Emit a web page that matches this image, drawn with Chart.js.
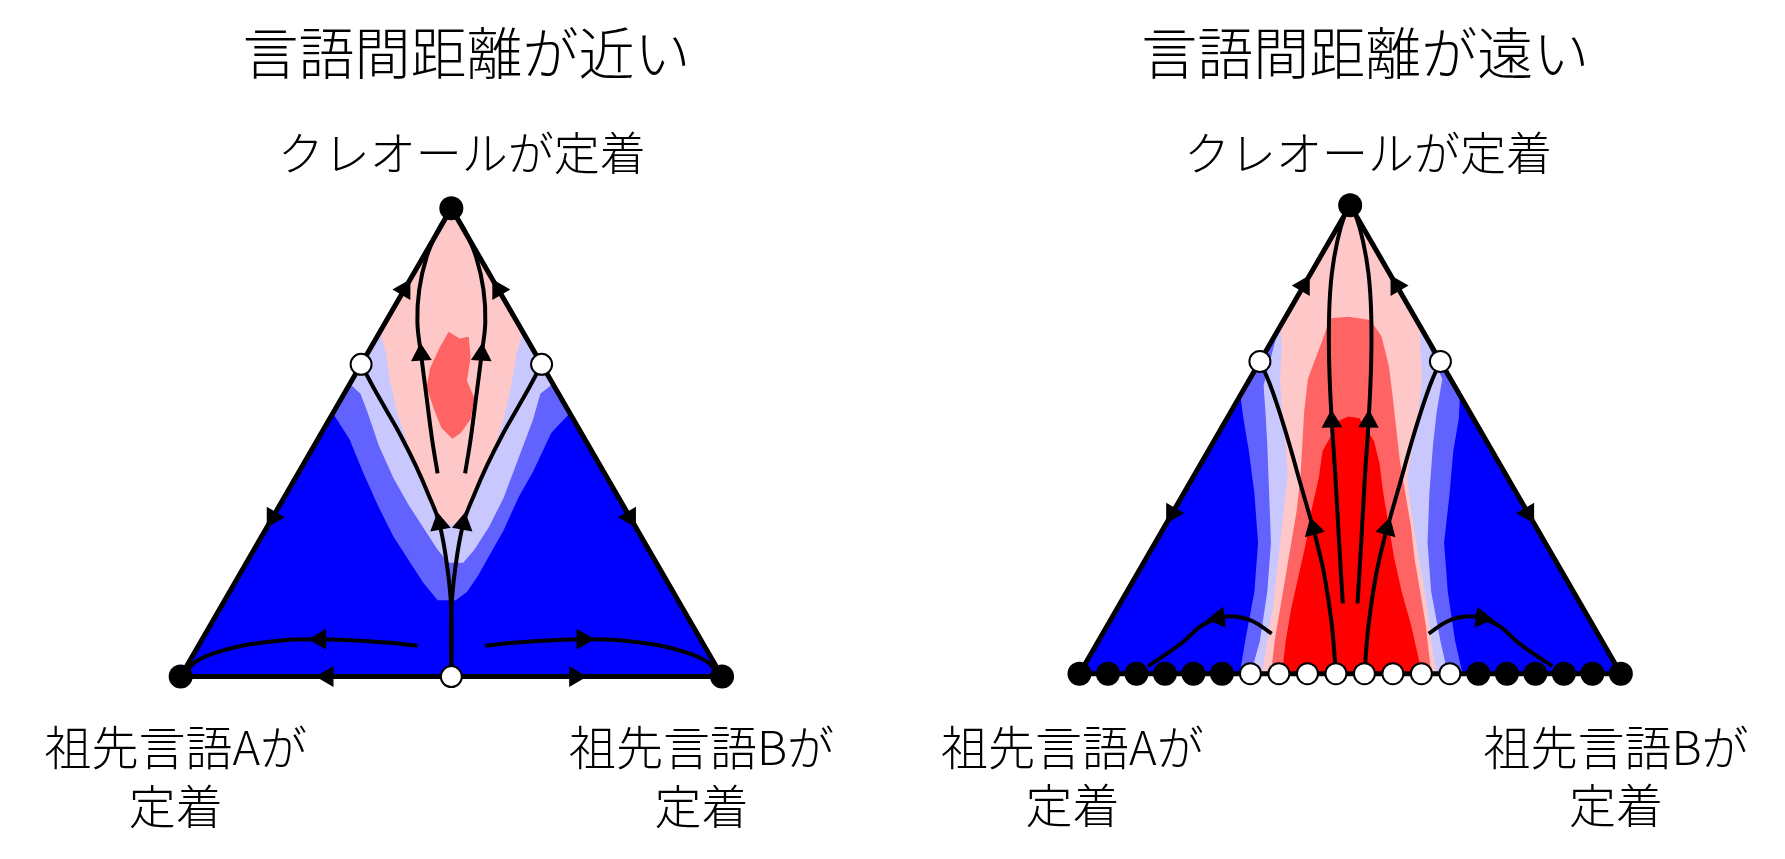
<!DOCTYPE html>
<html lang="ja">
<head>
<meta charset="utf-8">
<title>言語間距離とクレオールの定着</title>
<script src="https://cdn.jsdelivr.net/npm/chart.js@4.4.1/dist/chart.umd.min.js"></script>
<style>
  html, body { margin: 0; padding: 0; background: #fff; }
  #wrap { position: relative; width: 1785px; height: 859px; overflow: hidden; }
  canvas { position: absolute; top: 0; }
  #near { left: 0; }
  #far { left: 892px; }
</style>
</head>
<body>
<div id="wrap">
  <canvas id="near" width="892" height="859"></canvas>
  <canvas id="far" width="893" height="859"></canvas>
</div>
<script>
// 三角形の座標系: 左下(0,0)=祖先言語A, 右下(1,0)=祖先言語B, 頂点(0.5,0.866)=クレオール
const triangle = [[0, 0], [1, 0], [0.5, 0.866]];

// ---- 言語間距離が近い ----
const nearMid = [[0.2812, 0.4871], [0.5, 0.866], [0.7188, 0.4871], [0.6847, 0.4511], [0.6508, 0.3789], [0.6237, 0.3308],
  [0.5966, 0.2706], [0.5695, 0.2225], [0.5492, 0.1864], [0.5288, 0.1564], [0.5085, 0.1413], [0.4746, 0.1413],
  [0.4475, 0.1744], [0.4203, 0.2165], [0.3932, 0.2586], [0.3661, 0.3127], [0.3390, 0.3729], [0.3119, 0.4390]];
const nearLight = [[0.3125, 0.5413], [0.5, 0.866], [0.6875, 0.5413], [0.6644, 0.5232], [0.6508, 0.4751], [0.6237, 0.4029],
  [0.5966, 0.3308], [0.5695, 0.2766], [0.5424, 0.2345], [0.5220, 0.2105], [0.4949, 0.2105], [0.4746, 0.2345],
  [0.4475, 0.2766], [0.4203, 0.3187], [0.3932, 0.3669], [0.3661, 0.4270], [0.3458, 0.4871], [0.3322, 0.5232]];
const nearPink = [[0.3681, 0.6375], [0.5, 0.866], [0.6319, 0.6375], [0.6203, 0.5954], [0.6102, 0.5352], [0.5966, 0.4751],
  [0.5763, 0.4150], [0.5559, 0.3669], [0.5356, 0.3248], [0.5153, 0.2887], [0.4983, 0.2797], [0.4814, 0.2887],
  [0.4610, 0.3187], [0.4407, 0.3669], [0.4203, 0.4270], [0.4000, 0.4871], [0.3864, 0.5473], [0.3797, 0.5954]];
const nearSalmon = [[0.4949, 0.6375], [0.5153, 0.6254], [0.5322, 0.6284], [0.5356, 0.5894], [0.5288, 0.5473], [0.5424, 0.5150],
  [0.5356, 0.4760], [0.5170, 0.4500], [0.5017, 0.4400], [0.4814, 0.4600], [0.4678, 0.4950], [0.4542, 0.5352],
  [0.4610, 0.5713], [0.4780, 0.6074]];

const nearBranchLeft = [[0.5, 0], [0.5, 0.12], [0.493, 0.1985], [0.478, 0.2827], [0.4576, 0.3368], [0.4339, 0.3909],
  [0.4068, 0.4450], [0.3797, 0.4931], [0.3559, 0.5352], [0.3333, 0.5774]];
const nearBranchRight = [[0.5, 0], [0.5, 0.12], [0.507, 0.1985], [0.522, 0.2827], [0.5424, 0.3368], [0.5661, 0.3909],
  [0.5932, 0.4450], [0.6203, 0.4931], [0.6441, 0.5352], [0.6667, 0.5774]];
const nearInnerLeft = [[0.4746, 0.3759], [0.4644, 0.4390], [0.4542, 0.5172], [0.4441, 0.5954], [0.4373, 0.6555],
  [0.4407, 0.7157], [0.4542, 0.7758], [0.4746, 0.8239], [0.5, 0.866]];
const nearInnerRight = [[0.5254, 0.3759], [0.5356, 0.4390], [0.5458, 0.5172], [0.5559, 0.5954], [0.5627, 0.6555],
  [0.5593, 0.7157], [0.5458, 0.7758], [0.5254, 0.8239], [0.5, 0.866]];
const nearArcLeft = [[0.4373, 0.0571], [0.3797, 0.0631], [0.3119, 0.0674], [0.2576, 0.0692], [0.1898, 0.0674],
  [0.1220, 0.0589], [0.0678, 0.0451], [0.0271, 0.0271], [0.008, 0.006]];
const nearArcRight = [[0.5627, 0.0571], [0.6203, 0.0631], [0.6881, 0.0674], [0.7424, 0.0692], [0.8102, 0.0674],
  [0.8780, 0.0589], [0.9322, 0.0451], [0.9729, 0.0271], [0.992, 0.006]];
// 矢印 [x, y, 向き(度)]
const nearArrows = [[0.4132, 0.7157, 30], [0.1701, 0.2947, 210], [0.5868, 0.7157, 330], [0.8299, 0.2947, 150],
  [0.2712, 0, 270], [0.7288, 0, 90], [0.4441, 0.5954, 357], [0.5559, 0.5954, 3],
  [0.478, 0.2827, 350], [0.522, 0.2827, 10], [0.2576, 0.0692, 270], [0.7424, 0.0692, 90]];
const nearStable = [[0, 0], [1, 0], [0.5, 0.866]];
const nearUnstable = [[0.5, 0], [0.3333, 0.5774], [0.6667, 0.5774]];

// ---- 言語間距離が遠い ----
const farMid = [[0.2972, 0.5148], [0.5, 0.866], [0.7028, 0.5148], [0.7007, 0.4724], [0.6905, 0.4118], [0.6837, 0.3331],
  [0.6735, 0.2422], [0.6803, 0.1514], [0.6939, 0.0606], [0.7075, 0], [0.2959, 0], [0.3061, 0.0606],
  [0.3231, 0.1514], [0.3299, 0.2422], [0.3231, 0.3331], [0.3129, 0.4118], [0.3027, 0.4724]];
const farLight = [[0.3671, 0.6359], [0.5, 0.866], [0.6329, 0.6359], [0.6701, 0.5450], [0.6599, 0.4845], [0.6531, 0.4239],
  [0.6463, 0.3331], [0.6429, 0.2422], [0.6497, 0.1514], [0.6667, 0.0606], [0.6803, 0], [0.3163, 0],
  [0.3333, 0.0606], [0.3469, 0.1514], [0.3537, 0.2422], [0.3503, 0.3331], [0.3469, 0.4239], [0.3435, 0.4845],
  [0.3401, 0.5329]];
const farPink = [[0.3706, 0.6419], [0.5, 0.866], [0.6294, 0.6419], [0.6293, 0.6056], [0.6327, 0.5450], [0.6259, 0.4845],
  [0.6156, 0.4239], [0.6054, 0.3634], [0.6122, 0.3028], [0.6224, 0.2422], [0.6327, 0.1817], [0.6429, 0.1211],
  [0.6497, 0.0606], [0.6599, 0], [0.3367, 0], [0.3469, 0.0606], [0.3571, 0.1211], [0.3639, 0.1817],
  [0.3707, 0.2422], [0.3776, 0.3028], [0.3844, 0.3634], [0.3810, 0.4239], [0.3741, 0.4845], [0.3707, 0.5450],
  [0.3741, 0.6056]];
const farSalmon = [[0.4626, 0.6571], [0.4966, 0.6601], [0.5374, 0.6540], [0.5578, 0.6238], [0.5714, 0.5693],
  [0.5782, 0.5148], [0.5850, 0.4542], [0.5918, 0.3936], [0.6020, 0.3331], [0.6122, 0.2725], [0.6190, 0.2120],
  [0.6293, 0.1514], [0.6395, 0.0908], [0.6463, 0.0303], [0.6497, 0], [0.3537, 0], [0.3605, 0.0606],
  [0.3707, 0.1211], [0.3810, 0.1817], [0.3912, 0.2422], [0.4014, 0.3028], [0.4082, 0.3634], [0.4116, 0.4239],
  [0.4150, 0.4845], [0.4218, 0.5450], [0.4354, 0.5814], [0.4490, 0.6177]];
const farRed = [[0.4762, 0.4663], [0.4966, 0.4754], [0.5170, 0.4724], [0.5442, 0.4300], [0.5544, 0.3876],
  [0.5612, 0.3331], [0.5714, 0.2725], [0.5816, 0.2120], [0.5952, 0.1514], [0.6122, 0.0908], [0.6259, 0.0303],
  [0.6327, 0], [0.3741, 0], [0.3810, 0.0606], [0.3912, 0.1211], [0.4048, 0.1817], [0.4184, 0.2422],
  [0.4286, 0.3028], [0.4422, 0.3634], [0.4490, 0.4118], [0.4626, 0.4360]];

const farOuterLeft = [[0.4737, 0], [0.4660, 0.0908], [0.4524, 0.1817], [0.4388, 0.2422], [0.4320, 0.2680],
  [0.4082, 0.3512], [0.3878, 0.4239], [0.3673, 0.4905], [0.3503, 0.5390], [0.3333, 0.5774]];
const farOuterRight = [[0.5263, 0], [0.5340, 0.0908], [0.5476, 0.1817], [0.5612, 0.2422], [0.5680, 0.2680],
  [0.5918, 0.3512], [0.6122, 0.4239], [0.6327, 0.4905], [0.6497, 0.5390], [0.6667, 0.5774]];
const farInnerLeft = [[0.4864, 0.1302], [0.4796, 0.2422], [0.4728, 0.3634], [0.4660, 0.4663], [0.4612, 0.5753],
  [0.4612, 0.6662], [0.4660, 0.7388], [0.4762, 0.7994], [0.4898, 0.8478], [0.5, 0.866]];
const farInnerRight = [[0.5136, 0.1302], [0.5204, 0.2422], [0.5272, 0.3634], [0.5340, 0.4663], [0.5388, 0.5753],
  [0.5388, 0.6662], [0.5340, 0.7388], [0.5238, 0.7994], [0.5102, 0.8478], [0.5, 0.866]];
const farArcLeft = [[0.127, 0.014], [0.163, 0.038], [0.194, 0.061], [0.224, 0.088], [0.257, 0.103], [0.284, 0.106],
  [0.320, 0.097], [0.355, 0.074]];
const farArcRight = [[0.645, 0.074], [0.680, 0.097], [0.716, 0.106], [0.743, 0.103], [0.776, 0.088], [0.806, 0.061],
  [0.837, 0.038], [0.873, 0.014]];
const farArrows = [[0.4143, 0.7176, 30], [0.1713, 0.2967, 210], [0.5857, 0.7176, 330], [0.8287, 0.2967, 150],
  [0.4320, 0.2680, 345], [0.5680, 0.2680, 15], [0.4660, 0.4663, 358], [0.5340, 0.4663, 2],
  [0.257, 0.103, 262], [0.743, 0.103, 98]];
const farStable = [[0, 0], [0.0526, 0], [0.1053, 0], [0.1579, 0], [0.2105, 0], [0.2632, 0],
  [0.7368, 0], [0.7895, 0], [0.8421, 0], [0.8947, 0], [0.9474, 0], [1, 0], [0.5, 0.866]];
const farUnstable = [[0.3158, 0], [0.3684, 0], [0.4211, 0], [0.4737, 0], [0.5263, 0], [0.5789, 0], [0.6316, 0],
  [0.6842, 0], [0.3333, 0.5774], [0.6667, 0.5774]];

const colors = { blue: '#0000ff', mid: '#6262ff', light: '#c8c8ff', pink: '#ffc8c8', salmon: '#ff6464', red: '#ff0000' };

const pts = arr => arr.map(([x, y]) => ({ x, y }));

function region(data, color, order) {
  return { data: pts(data), showLine: true, fill: 'shape', backgroundColor: color,
    borderWidth: 0, pointRadius: 0, tension: 0, order };
}
function flow(data) {
  return { data: pts(data), showLine: true, fill: false, borderColor: '#000', borderWidth: 4,
    pointRadius: 0, tension: 0.4, borderCapStyle: 'butt', order: 3 };
}
function outline() {
  return { data: pts([...triangle, triangle[0]]), showLine: true, fill: false, borderColor: '#000',
    borderWidth: 5, pointRadius: 0, tension: 0, order: 4 };
}
function arrows(list) {
  return { data: pts(list), showLine: false, pointStyle: 'triangle', pointRadius: 12,
    pointRotation: list.map(a => a[2]), pointBackgroundColor: '#000', pointBorderWidth: 0, order: 2 };
}
function dots(list, open) {
  return { data: pts(list), showLine: false, pointStyle: 'circle', pointRadius: open ? 10.5 : 12,
    pointBackgroundColor: open ? '#fff' : '#000', pointBorderColor: '#000',
    pointBorderWidth: open ? 2 : 0, order: open ? 0 : 1 };
}

// 文字は軸の値で位置決めして描く
const labelPlugin = {
  id: 'vertexLabels',
  afterDraw(chart, args, opts) {
    const { ctx, scales: { x, y } } = chart;
    ctx.save();
    ctx.fillStyle = '#000';
    ctx.textAlign = 'center';
    ctx.textBaseline = 'middle';
    for (const t of opts.items) {
      ctx.font = `300 ${t.size}px "Noto Sans CJK JP", "Noto Sans CJK SC", sans-serif`;
      ctx.fillText(t.text, x.getPixelForValue(t.at[0]), y.getPixelForValue(t.at[1]));
    }
    ctx.restore();
  }
};

function makeChart(id, datasets, xr, yr, items) {
  return new Chart(document.getElementById(id), {
    type: 'scatter',
    data: { datasets },
    plugins: [labelPlugin],
    options: {
      responsive: false, animation: false, devicePixelRatio: 1, events: [],
      layout: { padding: 0 },
      plugins: { legend: { display: false }, tooltip: { enabled: false }, vertexLabels: { items } },
      scales: {
        x: { type: 'linear', min: xr[0], max: xr[1], display: false },
        y: { type: 'linear', min: yr[0], max: yr[1], display: false }
      }
    }
  });
}

makeChart('near', [
  region(triangle, colors.blue, 20),
  region(nearMid, colors.mid, 19),
  region(nearLight, colors.light, 18),
  region(nearPink, colors.pink, 17),
  region(nearSalmon, colors.salmon, 16),
  outline(),
  flow(nearBranchLeft), flow(nearBranchRight),
  flow(nearInnerLeft), flow(nearInnerRight),
  flow(nearArcLeft), flow(nearArcRight),
  arrows(nearArrows),
  dots(nearStable, false),
  dots(nearUnstable, true)
], [-0.31059, 1.29085], [-0.31418, 1.22801], [
  { text: '言語間距離が近い', at: [0.528, 1.153], size: 56 },
  { text: 'クレオールが定着', at: [0.519, 0.969], size: 46 },
  { text: '祖先言語Aが', at: [-0.009, -0.131], size: 47 },
  { text: '定着', at: [-0.009, -0.239], size: 47 },
  { text: '祖先言語Bが', at: [0.962, -0.131], size: 47 },
  { text: '定着', at: [0.962, -0.239], size: 47 }
]);

makeChart('far', [
  region(triangle, colors.blue, 20),
  region(farMid, colors.mid, 19),
  region(farLight, colors.light, 18),
  region(farPink, colors.pink, 17),
  region(farSalmon, colors.salmon, 16),
  region(farRed, colors.red, 15),
  outline(),
  flow(farOuterLeft), flow(farOuterRight),
  flow(farInnerLeft), flow(farInnerRight),
  flow(farArcLeft), flow(farArcRight),
  arrows(farArrows),
  dots(farStable, false),
  dots(farUnstable, true)
], [-0.32316, 1.28007], [-0.31957, 1.22262], [
  { text: '言語間距離が遠い', at: [0.528, 1.148], size: 56 },
  { text: 'クレオールが定着', at: [0.533, 0.964], size: 46 },
  { text: '祖先言語Aが', at: [-0.013, -0.136], size: 47 },
  { text: '定着', at: [-0.013, -0.244], size: 47 },
  { text: '祖先言語Bが', at: [0.991, -0.136], size: 47 },
  { text: '定着', at: [0.991, -0.244], size: 47 }
]);
</script>
</body>
</html>
